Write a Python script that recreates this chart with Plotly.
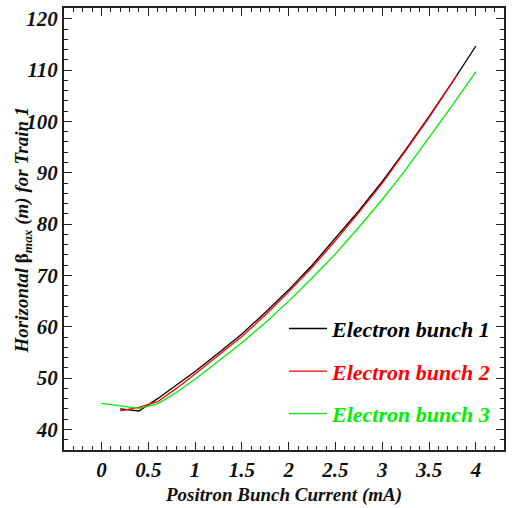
import plotly.graph_objects as go

x_b1 = [0.2, 0.4, 0.6, 0.8, 1.0, 1.25, 1.5, 1.75, 2.0, 2.25, 2.5, 2.75, 3.0, 3.25, 3.5, 3.75, 4.0]
y_b1 = [44.0, 43.6, 46.0, 48.6, 51.3, 54.9, 58.6, 62.8, 67.2, 72.0, 77.2, 82.6, 88.3, 94.5, 101.0, 107.7, 114.7]
x_b2 = [0.2, 0.4, 0.6, 0.8, 1.0, 1.25, 1.5, 1.75, 2.0, 2.25, 2.5, 2.75, 3.0, 3.25, 3.5, 3.8]
y_b2 = [43.6, 44.3, 45.4, 48.0, 50.8, 54.4, 58.1, 62.3, 66.8, 71.6, 76.8, 82.3, 88.0, 94.3, 100.8, 109.1]
x_b3 = [0.0, 0.4, 0.6, 0.8, 1.0, 1.25, 1.5, 1.75, 2.0, 2.25, 2.5, 2.75, 3.0, 3.25, 3.5, 3.75, 4.0]
y_b3 = [45.1, 44.1, 45.0, 47.2, 49.8, 53.4, 56.9, 60.8, 65.0, 69.5, 74.2, 79.4, 84.8, 90.6, 96.8, 103.2, 109.7]

names = ["Electron bunch 1", "Electron bunch 2", "Electron bunch 3"]
colors = ["#000000", "#ff0000", "#00ee00"]
series = [(x_b1, y_b1), (x_b2, y_b2), (x_b3, y_b3)]

FONT = "Liberation Serif"
fig = go.Figure()
for i, (xs, ys) in enumerate(series):
    fig.add_trace(go.Scatter(
        x=xs, y=ys, mode="lines",
        line=dict(color=colors[i], width=1.3),
        name=f"<span style='color:{colors[i]}'>{names[i]}</span>",
        legendgroup=f"g{i}",
    ))

axis_common = dict(
    showline=True, linecolor="#222", linewidth=2, mirror="allticks",
    ticks="inside", ticklen=8, tickwidth=1.2, tickcolor="#222",
    showgrid=False, zeroline=False,
    tickfont=dict(family=FONT, size=21, color="#111", weight="bold", style="italic"),
)

fig.update_xaxes(
    range=[-0.4, 4.3], tickmode="array",
    tickvals=[0, 0.5, 1, 1.5, 2, 2.5, 3, 3.5, 4],
    ticktext=["0", "0.5", "1", "1.5", "2", "2.5", "3", "3.5", "4"],
    minor=dict(dtick=0.1, tick0=0, ticks="inside", ticklen=4, tickcolor="#222"),
    title=dict(text="Positron Bunch Current (mA)", standoff=6,
               font=dict(family=FONT, size=19, color="#111", weight="bold", style="italic")),
    **axis_common,
)
fig.update_yaxes(
    range=[36, 122.1], tickmode="array",
    tickvals=[40, 50, 60, 70, 80, 90, 100, 110, 120],
    minor=dict(dtick=2, tick0=0, ticks="inside", ticklen=4, tickcolor="#222"),
    **axis_common,
)

fig.add_annotation(
    xref="paper", yref="paper", x=-0.093, y=0.497, xanchor="center", yanchor="middle",
    textangle=-90, showarrow=False,
    text="Horizontal <span style='font-style:normal'>β</span><sub>max</sub> (m) for Train 1",
    font=dict(family=FONT, size=19, color="#111", weight="bold", style="italic"),
)

fig.update_layout(
    width=512, height=508,
    margin=dict(l=64, r=7, t=6, b=50),
    paper_bgcolor="white", plot_bgcolor="white",
    showlegend=True,
    legend=dict(
        x=0.5, y=0.322, xanchor="left", yanchor="top",
        bgcolor="rgba(0,0,0,0)", tracegroupgap=11,
        font=dict(family=FONT, size=22, weight="bold", style="italic"),
        itemwidth=38,
    ),
)

fig.write_html("out.html")
